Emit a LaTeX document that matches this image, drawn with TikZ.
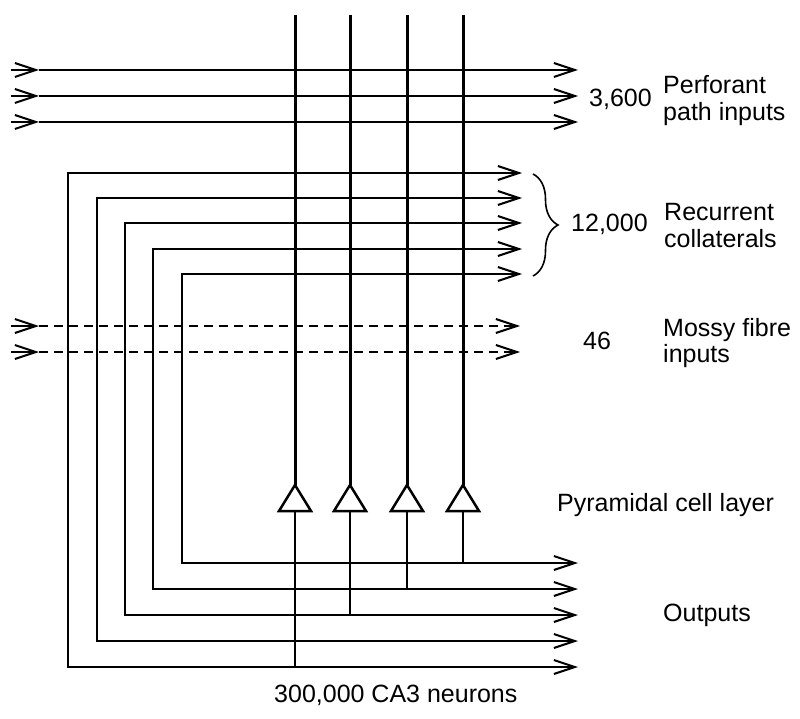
\documentclass[tikz,border=0pt]{standalone}
\usepackage{fontspec}
\setmainfont{Liberation Sans}
\usetikzlibrary{arrows.meta,decorations.pathreplacing}
\begin{document}
\begin{tikzpicture}[x=1pt,y=-1pt,
  hline/.style={line width=2.2pt},
  loopline/.style={line width=2pt, line join=miter},
  dendrite/.style={line width=3pt},
  axon/.style={line width=1.8pt},
  soma/.style={line width=2.5pt, fill=white, line join=miter},
  barb/.style={-{Straight Barb[length=21pt,width=14pt,line width=2pt]}},
  bothbarb/.style={{Straight Barb[length=21pt,width=14pt,line width=2pt]}-{Straight Barb[length=21pt,width=14pt,line width=2pt]}},
  mossy/.style={line width=2pt, dash pattern=on 9pt off 6pt},
  lbl/.style={inner sep=0pt, anchor=base west, font=\fontsize{25}{30}\selectfont}
]
\useasboundingbox (0,0) rectangle (800,719);

% Perforant path inputs
\foreach \y [count=\i] in {70,96,122} {
  \coordinate (pin\i) at (11,\y);
  \coordinate (pmark\i) at (39,\y);
  \coordinate (pout\i) at (578,\y);
  \draw[hline,barb] (pin\i) -- (pmark\i);
  \draw[hline,barb] (pmark\i) -- (pout\i);
}

% Mossy fibre inputs
\foreach \y [count=\i] in {326,352} {
  \coordinate (min\i) at (11,\y);
  \coordinate (mmark\i) at (39,\y);
  \coordinate (mout\i) at (520,\y);
  \draw[line width=2pt,barb] (min\i) -- (mmark\i);
  \draw[mossy,barb] (mmark\i) -- (mout\i);
}

% Recurrent collaterals and outputs
\foreach \x/\yr/\yo [count=\i] in {68/173/667, 97/198/641, 125/223/615, 153/249/589, 182/274/563} {
  \coordinate (rc\i) at (522,\yr);
  \coordinate (ct\i) at (\x,\yr);
  \coordinate (cb\i) at (\x,\yo);
  \coordinate (out\i) at (578,\yo);
  \draw[loopline,bothbarb] (rc\i) -- (ct\i) -- (cb\i) -- (out\i);
}

% Pyramidal cells
\foreach \x/\yo [count=\i] in {295/667, 350/615, 407/589, 463/563} {
  \coordinate (top\i) at (\x,15);
  \coordinate (apex\i) at (\x,485);
  \coordinate (base\i) at (\x,511);
  \coordinate (ax\i) at (\x,\yo);
  \draw[dendrite] (top\i) -- (apex\i);
  \draw[axon] (base\i) -- (ax\i);
  \draw[soma] (apex\i) -- (\x+16,511) -- (\x-16,511) -- cycle;
}

% Brace
\coordinate (brT) at (533,174);
\coordinate (brB) at (533,276);
\draw[line width=1.6pt, decorate, decoration={brace, amplitude=25pt}] (brT) -- (brB);

% Labels
\node[lbl] (n3600) at (589,107) {3,600};
\node[lbl] (perf1) at (663,94) {Perforant};
\node[lbl] (perf2) at (663,121) {path inputs};
\node[lbl] (n12000) at (571,232) {12,000};
\node[lbl] (rec1) at (664,221) {Recurrent};
\node[lbl] (rec2) at (664,248) {collaterals};
\node[lbl] (n46) at (583,349) {46};
\node[lbl] (mos1) at (663,336) {Mossy fibre};
\node[lbl] (mos2) at (663,362) {inputs};
\node[lbl] (pyr) at (557,511) {Pyramidal cell layer};
\node[lbl] (outl) at (663,621) {Outputs};
\node[lbl] (ca3) at (274,702) {300,000 CA3 neurons};
\end{tikzpicture}
\end{document}
